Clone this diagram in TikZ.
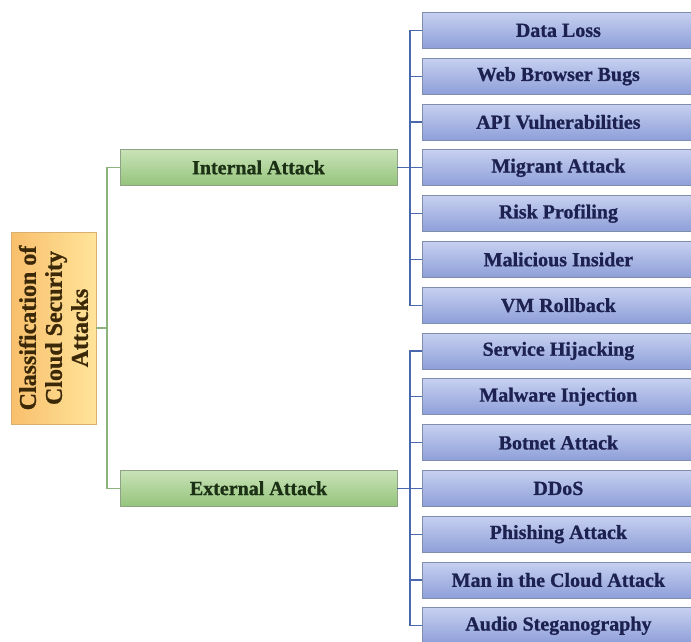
\documentclass[tikz,border=0pt]{standalone}
\usepackage{fontspec}
\setmainfont{Liberation Serif}[BoldFeatures={FakeBold=0.9}]
\definecolor{bluetop}{HTML}{C7D0F0}
\definecolor{bluebot}{HTML}{8E9FD9}
\definecolor{blueedge}{HTML}{7F8DAE}
\definecolor{bluetxt}{HTML}{1C2150}
\definecolor{bluelink}{HTML}{4A68AE}
\definecolor{greentop}{HTML}{C9E3B8}
\definecolor{greenbot}{HTML}{95C47C}
\definecolor{greenedge}{HTML}{8FA286}
\definecolor{greentxt}{HTML}{1B3014}
\definecolor{greenlink}{HTML}{8DB27A}
\definecolor{orangetop}{HTML}{FFE49A}
\definecolor{orangebot}{HTML}{F8BF6C}
\definecolor{orangeedge}{HTML}{D9B070}
\definecolor{orangetxt}{HTML}{3A2808}
\tikzset{
  leafbox/.style={draw=blueedge, line width=0.8pt, top color=bluetop, bottom color=bluebot,
    minimum width=278pt, minimum height=36pt, anchor=north west, inner sep=0pt,
    text=bluetxt, font=\bfseries\fontsize{20}{23}\selectfont},
  midbox/.style={draw=greenedge, line width=0.8pt, top color=greentop, bottom color=greenbot,
    minimum width=277pt, minimum height=36pt, inner sep=0pt,
    text=greentxt, font=\bfseries\fontsize{20}{23}\selectfont},
  rootbox/.style={draw=orangeedge, line width=0.8pt, left color=orangebot, right color=orangetop,
    minimum width=192pt, minimum height=85pt, inner sep=0pt, rotate=90,
    text=orangetxt, align=center, font=\bfseries\fontsize{24}{26}\selectfont},
  glink/.style={draw=greenlink, line width=1.3pt},
  blink/.style={draw=bluelink, line width=1.3pt}
}
\begin{document}
\begin{tikzpicture}[x=1pt,y=-1pt]
\useasboundingbox (0,0) rectangle (691,641);
\clip (0,0) rectangle (691,641);
\fill[white] (0,0) rectangle (691,641);
% leaf boxes
\foreach \i/\t in {0/Data Loss,1/Web Browser Bugs,2/API Vulnerabilities,3/Migrant Attack,
  4/Risk Profiling,5/Malicious Insider,6/VM Rollback,7/Service Hijacking,8/Malware Injection,
  9/Botnet Attack,10/DDoS,11/Phishing Attack,12/Man in the Cloud Attack,13/Audio Steganography}{
  \node[leafbox] (b\i) at (422,{12+45.8*\i}) {\hspace*{-6pt}\t};
}
% middle boxes
\node[midbox] (int) at (258.5,167.4) {Internal Attack};
\node[midbox] (ext) at (258.5,488.2) {External Attack};
% root
\node[rootbox] (root) at (53.5,328) {Classification of\\Cloud Security\\Attacks};
% left trunk
\coordinate (lt) at (107,328);
\draw[glink] (root.south) -- (lt);
\draw[glink] (int.west) -| (lt) |- (ext.west);
% right brackets
\coordinate (ri) at (410,167.4);
\coordinate (re) at (410,488.2);
\draw[blink] (int.east) -- (ri);
\draw[blink] (ext.east) -- (re);
\foreach \i in {0,...,6}{\draw[blink] (b\i.west) -| (ri);}
\foreach \i in {7,...,13}{\draw[blink] (b\i.west) -| (re);}
\end{tikzpicture}
\end{document}
